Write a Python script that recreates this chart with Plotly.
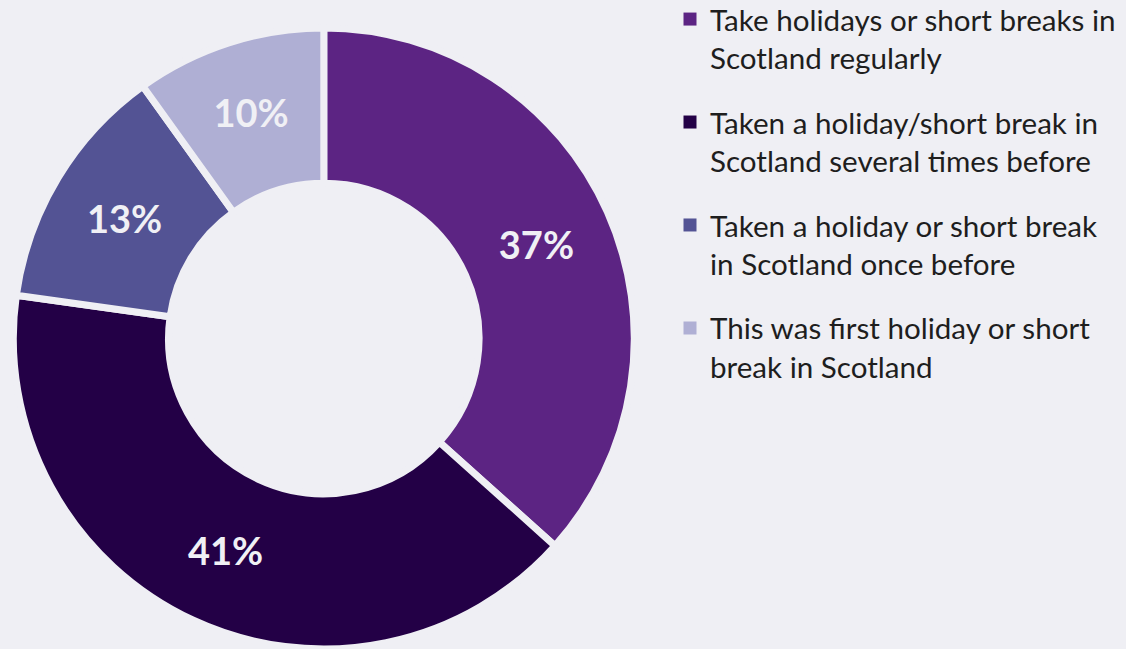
import plotly.graph_objects as go

labels = [
    "Take holidays or short breaks in<br>Scotland regularly",
    "Taken a holiday/short break in<br>Scotland several times before",
    "Taken a holiday or short break<br>in Scotland once before",
    "This was first holiday or short<br>break in Scotland",
]
values = [37, 41, 13, 10]
colors = ["#5C2483", "#230046", "#535394", "#AFAFD4"]

BG = "#EFEFF4"

fig = go.Figure()
fig.add_trace(go.Pie(
    labels=labels,
    values=values,
    text=[f"{v}%" for v in values],
    texttemplate="%{text}",
    textinfo="text",
    textposition="inside",
    insidetextorientation="horizontal",
    hole=0.5,
    sort=False,
    direction="clockwise",
    rotation=0,
    marker=dict(colors=colors, line=dict(color=BG, width=7)),
    textfont=dict(family="Lato", size=38, color="#F0F0F5", weight="bold"),
    domain=dict(x=[13.3 / 1126, 634.3 / 1126], y=[0, 621 / 649]),
    showlegend=False,
    hoverinfo="label+text",
))

for lab, col in zip(labels, colors):
    fig.add_trace(go.Scatter(
        x=[None], y=[None], mode="markers", name=lab,
        marker=dict(symbol="square", size=13, color=col),
        legendgroup=lab, showlegend=True,
    ))

fig.update_layout(
    width=1126, height=649,
    margin=dict(l=0, r=0, t=0, b=0, autoexpand=False),
    paper_bgcolor=BG, plot_bgcolor=BG,
    xaxis=dict(visible=False), yaxis=dict(visible=False),
    legend=dict(
        x=670 / 1126, xanchor="left", y=0.3955, yanchor="bottom",
        font=dict(family="Lato", size=29.6, color="#1E1E1E"),
        valign="top", traceorder="grouped", tracegroupgap=23,
        bgcolor="rgba(0,0,0,0)", itemwidth=30,
    ),
)

fig.write_html(
    "out.html",
    config={"displayModeBar": False},
    post_script="document.body.style.margin='0';document.body.style.overflow='hidden';"
                "document.body.style.background='" + BG + "';",
)
